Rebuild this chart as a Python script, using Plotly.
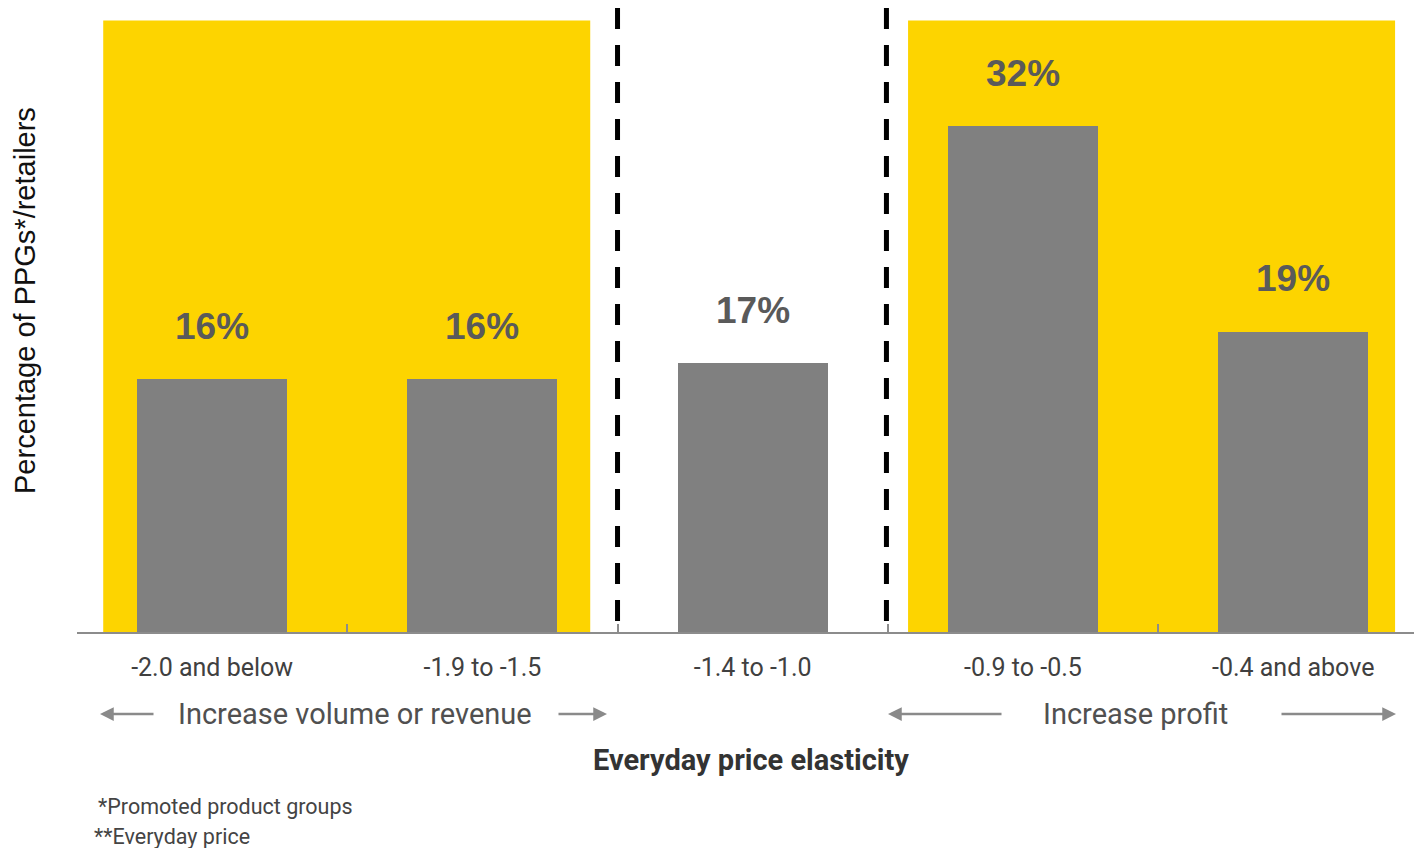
import plotly.graph_objects as go

categories = ["-2.0 and below", "-1.9 to -1.5", "-1.4 to -1.0", "-0.9 to -0.5", "-0.4 and above"]
values = [16, 16, 17, 32, 19]
value_labels = ["16%", "16%", "17%", "32%", "19%"]

W, H = 1414, 848
L, T, B = 77, 0, 216
PW, PH = W - L, H - T - B
X_RANGE = [-0.5, 4.447]
Y_RANGE = [0, 40]

def px_x(px):
    return (px - L) / PW

def px_y(py):
    return (H - B - py) / PH

YELLOW = "#FDD400"
BAR = "#808080"

fig = go.Figure()
fig.add_trace(go.Bar(
    x=categories, y=values, width=0.555,
    marker=dict(color=BAR, line=dict(width=0)),
    hoverinfo="skip", showlegend=False,
))

# yellow zones
for x0, x1 in [(-0.403, 1.399), (2.575, 4.377)]:
    fig.add_shape(type="rect", xref="x", yref="y", x0=x0, x1=x1, y0=0, y1=38.7,
                  fillcolor=YELLOW, line=dict(width=0), layer="below")
# dashed separators
for xd in [1.5, 2.495]:
    fig.add_shape(type="line", xref="x", yref="y", x0=xd, x1=xd, y0=39.5, y1=0,
                  line=dict(color="black", width=5, dash="21px,16px"), layer="above")

# value labels
for c, v, t in zip(categories, values, value_labels):
    fig.add_annotation(x=c, y=v, text="<b>" + t + "</b>", showarrow=False, yanchor="middle", xanchor="center",
                       yshift=53,
                       font=dict(family="Liberation Sans, Arial", size=37, color="#5a5a5a"))

def txt(px, py, text, font, xanchor="center", **kw):
    fig.add_annotation(xref="paper", yref="paper", x=px_x(px), y=px_y(py), text=text,
                       showarrow=False, xanchor=xanchor, yanchor="middle", font=font, **kw)

lab_font = dict(family="Roboto, sans-serif", size=29, color="#505050")
txt(355, 714, "Increase volume or revenue", lab_font)
txt(1135, 714, "Increase profit", lab_font)
# arrows
for head, tail in [(100, 155), (607, 557), (888, 1003), (1396, 1280)]:
    fig.add_annotation(xref="paper", yref="paper", x=px_x(head), y=px_y(714), ax=tail - head, ay=0,
                       axref="pixel", ayref="pixel", text="", showarrow=True,
                       arrowhead=2, arrowsize=1.1, arrowwidth=2.5, arrowcolor="#8a8a8a")

txt(751, 760, "<b>Everyday price elasticity</b>", dict(family="Roboto, sans-serif", size=29, color="#333333"))
foot_font = dict(family="Roboto, sans-serif", size=21.5, color="#444444")
txt(96, 806, "*Promoted product groups", foot_font, xanchor="left")
txt(92, 836, "**Everyday price", foot_font, xanchor="left")
txt(25, 301, "Percentage of PPGs*/retailers",
    dict(family="Liberation Sans, Arial", size=29, color="#111111"), textangle=-90)

fig.update_layout(
    width=W, height=H, margin=dict(l=L, r=0, t=T, b=B, pad=0),
    plot_bgcolor="white", paper_bgcolor="white", bargap=0,
)
fig.update_xaxes(
    type="category", range=X_RANGE, showgrid=False, zeroline=False,
    showline=True, linecolor="#8c8c8c", linewidth=2,
    ticks="inside", tickson="boundaries", ticklen=8, tickwidth=2, tickcolor="#8c8c8c",
    tickfont=dict(family="Roboto, sans-serif", size=25, color="#404040"),
    ticklabelstandoff=12,
)
fig.update_yaxes(range=Y_RANGE, showgrid=False, zeroline=False, showticklabels=False, showline=False, ticks="")

fig.write_html("out.html")
